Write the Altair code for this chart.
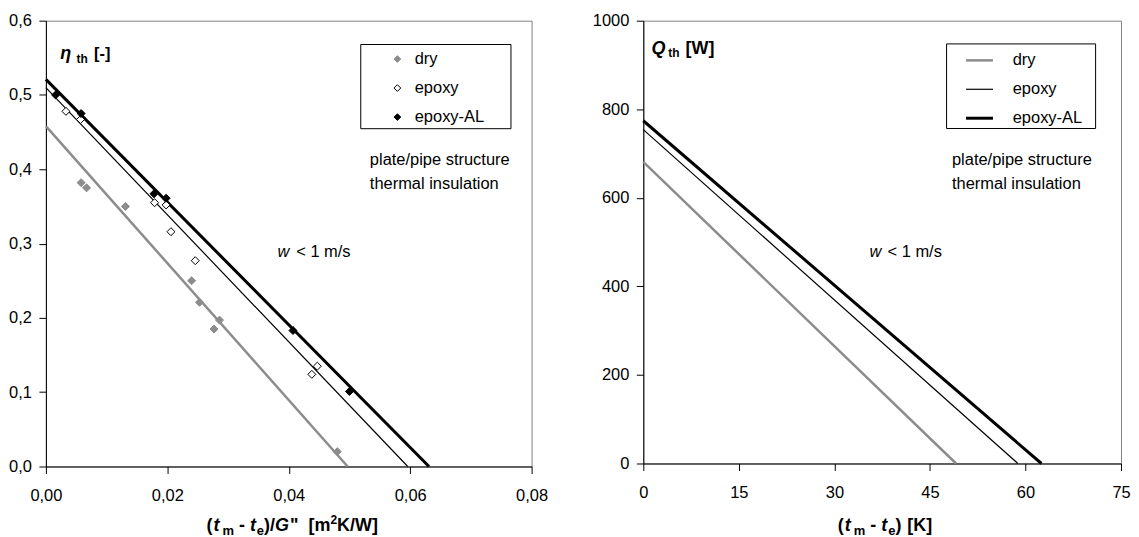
import altair as alt
import pandas as pd

FONT = "Liberation Sans"
GREY = "#8c8c8c"
SERIES = ["dry", "epoxy", "epoxy-AL"]

# ---- Left panel: measured efficiency points ----
DRY_X = [0.0058, 0.0067, 0.0131, 0.0240, 0.0253, 0.0286, 0.0277, 0.0480]
DRY_Y = [0.382, 0.375, 0.350, 0.250, 0.221, 0.197, 0.185, 0.020]
EPOXY_X = [0.0033, 0.0057, 0.0179, 0.0198, 0.0206, 0.0246, 0.0438, 0.0447]
EPOXY_Y = [0.478, 0.467, 0.355, 0.352, 0.316, 0.277, 0.124, 0.135]
AL_X = [0.0016, 0.0058, 0.0178, 0.0198, 0.0407, 0.0500]
AL_Y = [0.500, 0.475, 0.367, 0.361, 0.183, 0.101]

# fitted lines: eta at x=0 and x-intercept
ETA0 = [0.458, 0.510, 0.521]
XINT = [0.0497, 0.0596, 0.0631]

# ---- Right panel: heat output lines ----
Q0 = [681, 754, 774]
DT0 = [49.1, 58.8, 62.5]

X_TICKS_L = [0, 0.02, 0.04, 0.06, 0.08]
Y_TICKS_L = [0, 0.1, 0.2, 0.3, 0.4, 0.5, 0.6]
X_TICKS_R = [0, 15, 30, 45, 60, 75]
Y_TICKS_R = [0, 200, 400, 600, 800, 1000]

pts = pd.DataFrame({
    "series": ["dry"] * len(DRY_X) + ["epoxy"] * len(EPOXY_X) + ["epoxy-AL"] * len(AL_X),
    "x": DRY_X + EPOXY_X + AL_X,
    "y": DRY_Y + EPOXY_Y + AL_Y,
})
fit_rows = []
for s, a, b in zip(SERIES, ETA0, XINT):
    fit_rows += [{"series": s, "x": 0.0, "y": a}, {"series": s, "x": b, "y": 0.0}]
fit = pd.DataFrame(fit_rows)

q_rows = []
for s, a, b in zip(SERIES, Q0, DT0):
    q_rows += [{"series": s, "x": 0.0, "y": a}, {"series": s, "x": b, "y": 0.0}]
qdf = pd.DataFrame(q_rows)

DUMMY = pd.DataFrame({"a": [0]})

W_BOLD = {'(': 333, ')': 333, '/': 278, '-': 333, '[': 333, ']': 333, 't': 333,
          'm': 889, 'e': 556, 'G': 778, '"': 474, 'K': 722, 'W': 944, '2': 556}


def txt(s, x, y, size=16.5, bold=False, italic=False, align="left"):
    return alt.Chart(DUMMY).mark_text(
        text=s, align=align, baseline="alphabetic", font=FONT, fontSize=size,
        fontWeight="bold" if bold else "normal",
        fontStyle="italic" if italic else "normal", color="black",
    ).encode(x=alt.value(x), y=alt.value(y))


def box(x1, x2, y1, y2):
    return alt.Chart(DUMMY).mark_rect(fill="white", stroke="black", strokeWidth=1).encode(
        x=alt.value(x1), x2=alt.value(x2), y=alt.value(y1), y2=alt.value(y2))


def rich(pieces, x0, base):
    """pieces: (text, size, italic, gap_before, dy)"""
    out = []
    x = x0
    for s, size, it, gap, dy in pieces:
        x += gap
        out.append(txt(s, x, base + dy, size, bold=True, italic=it))
        x += sum(W_BOLD[c] for c in s) * size / 1000.0
    return out


M, S, P = 18, 13, 12
left_xtitle = rich([
    ("(", M, False, 0, 0), ("t", M, True, 1, 0), ("m", S, False, 3, 4),
    ("-", M, False, 5, 0), ("t", M, True, 5, 0), ("e", S, False, 1, 4),
    (")/", M, False, 0, 0), ("G", M, True, 0, 0), ('"', M, False, 1, 0),
    ("[m", M, False, 10, 0), ("2", P, False, 0, -7), ("K/W]", M, False, 0, 0),
], 161, 512)

right_xtitle = rich([
    ("(", M, False, 0, 0), ("t", M, True, 1, 0), ("m", S, False, 3, 4),
    ("-", M, False, 5, 0), ("t", M, True, 5, 0), ("e", S, False, 1, 4),
    (")", M, False, 0, 0), ("[K]", M, False, 6, 0),
], 195, 512)

# ---------------- Left panel ----------------
xL = alt.X("x:Q", scale=alt.Scale(domain=[0, 0.08], nice=False, zero=False),
           axis=alt.Axis(values=X_TICKS_L, title=None,
                         labelExpr="replace(format(datum.value, '.2f'), '.', ',')"))
yL = alt.Y("y:Q", scale=alt.Scale(domain=[0, 0.6], nice=False),
           axis=alt.Axis(values=Y_TICKS_L, title=None,
                         labelExpr="replace(format(datum.value, '.1f'), '.', ',')"))

COL = {"dry": GREY, "epoxy": "black", "epoxy-AL": "black"}
LW = {"dry": 2.5, "epoxy": 1.2, "epoxy-AL": 3}

legL = alt.Legend(
    title=None, orient="none", legendX=320.7, legendY=30.2, symbolType="diamond",
    symbolSize=45, symbolStrokeWidth=1, labelFont=FONT, labelFontSize=16.5,
    labelColor="black", padding=0, rowPadding=12.1, symbolOffset=23.5,
    labelOffset=9.1,
)

left_lines = [
    alt.Chart(fit).transform_filter(alt.datum.series == s)
    .mark_line(color=COL[s], strokeWidth=LW[s]).encode(x=xL, y=yL)
    for s in SERIES
]
left_pts = alt.Chart(pts).mark_point(
    shape="diamond", filled=True, size=64, opacity=1, strokeWidth=1
).encode(
    x=xL, y=yL,
    fill=alt.Fill("series:N", scale=alt.Scale(domain=SERIES, range=[GREY, "white", "black"]), legend=legL),
    stroke=alt.Stroke("series:N", scale=alt.Scale(domain=SERIES, range=[GREY, "black", "black"]), legend=legL),
)

left_text = [
    txt("η", 14.5, 38.7, 18, bold=True, italic=True),
    txt("th", 30.8, 42, 12, bold=True),
    txt("[-]", 48.3, 38.7, 16.5, bold=True),
    txt("plate/pipe structure", 324.8, 145),
    txt("thermal insulation", 324.8, 168.3),
    txt("w", 232.3, 237, italic=True),
    txt("< 1 m/s", 251, 237),
] + left_xtitle

left = alt.layer(box(315.7, 466.3, 23.9, 108.3), *left_lines, left_pts, *left_text).properties(
    width=487, height=447)

# ---------------- Right panel ----------------
xR = alt.X("x:Q", scale=alt.Scale(domain=[0, 75], nice=False, zero=False),
           axis=alt.Axis(values=X_TICKS_R, title=None, format="d"))
yR = alt.Y("y:Q", scale=alt.Scale(domain=[0, 1000], nice=False),
           axis=alt.Axis(values=Y_TICKS_R, title=None, format="d"))

legR = alt.Legend(
    title=None, orient="none", legendX=304.1, legendY=24.8, symbolType="stroke",
    symbolSize=729, labelFont=FONT, labelFontSize=16.5, labelColor="black",
    padding=0, rowPadding=5.5, symbolOffset=18.0, labelOffset=18.3,
)

right_lines = alt.Chart(qdf).mark_line().encode(
    x=xR, y=yR,
    stroke=alt.Stroke("series:N", scale=alt.Scale(domain=SERIES, range=[GREY, "black", "black"]), legend=legR),
    strokeWidth=alt.StrokeWidth("series:N", scale=alt.Scale(type="ordinal", domain=SERIES, range=[2.5, 1.2, 3]), legend=legR),
)

right_text = [
    txt("Q", 8.3, 33.2, 18, bold=True, italic=True),
    txt("th", 25.1, 36.5, 12, bold=True),
    txt("[W]", 42.3, 33.2, 18, bold=True),
    txt("plate/pipe structure", 309.5, 145),
    txt("thermal insulation", 309.5, 168.3),
    txt("w", 226.8, 237, italic=True),
    txt("< 1 m/s", 244.9, 237),
] + right_xtitle

right = alt.layer(box(304.1, 453.5, 23.3, 108.1), right_lines, *right_text).properties(
    width=479, height=444)

chart = alt.hconcat(left, right, spacing=43).resolve_scale(
    x="independent", y="independent", fill="independent",
    stroke="independent", strokeWidth="independent",
).resolve_legend(fill="independent", stroke="independent", strokeWidth="independent").properties(
    padding={"left": 0, "top": 3, "right": 0, "bottom": 0}
).configure_view(
    stroke="#808080", strokeWidth=1
).configure_axis(
    domainColor="black", tickColor="black", labelColor="black", labelFont=FONT,
    labelFontSize=16.5, tickSize=7, grid=False, domainWidth=1, tickWidth=1,
    labelFlush=False,
).configure_axisX(labelPadding=14).configure_axisY(labelPadding=7.5)

chart.save("out.html", embed_options={"renderer": "svg", "actions": False})
